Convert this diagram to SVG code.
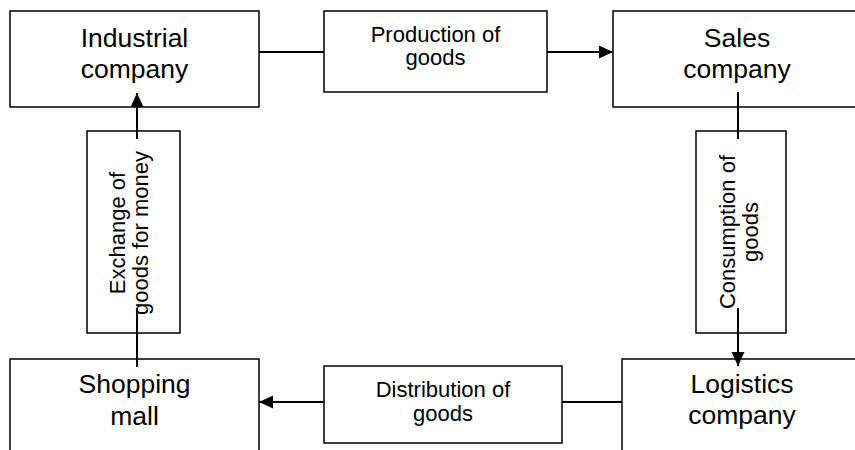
<svg xmlns="http://www.w3.org/2000/svg" width="855" height="450" viewBox="0 0 855 450">
  <style>
    .box { fill: #fff; stroke: #000; stroke-width: 1.5; }
    .lbl { fill: none; stroke: #000; stroke-width: 1.5; }
    .node { font-family: "Liberation Sans", Arial, sans-serif; font-size: 26.5px; fill: #000; text-anchor: middle; }
    .step { font-family: "Liberation Sans", Arial, sans-serif; font-size: 22px; fill: #000; text-anchor: middle; }
    .conn { fill: none; stroke: #000; stroke-width: 2; }
  </style>
  <defs>
    <marker id="arrow" markerUnits="userSpaceOnUse" markerWidth="16" markerHeight="16" refX="14" refY="6.5" orient="auto">
      <path d="M0,0 L14,6.5 L0,13 Z" fill="#000"/>
    </marker>
  </defs>

  <rect width="855" height="450" fill="#fff"/>

  <!-- company nodes -->
  <g id="industrial">
    <rect class="box" x="10" y="11" width="249" height="96"/>
    <text class="node" x="134.5" y="47">Industrial</text>
    <text class="node" x="134.5" y="78">company</text>
  </g>
  <g id="sales">
    <rect class="box" x="613" y="11" width="260" height="96"/>
    <text class="node" x="737" y="47">Sales</text>
    <text class="node" x="737" y="78">company</text>
  </g>
  <g id="logistics">
    <rect class="box" x="622" y="359" width="260" height="110"/>
    <text class="node" x="742" y="393">Logistics</text>
    <text class="node" x="742" y="424">company</text>
  </g>
  <g id="mall">
    <rect class="box" x="10" y="359" width="249" height="110"/>
    <text class="node" x="134.5" y="393">Shopping</text>
    <text class="node" x="134.5" y="425">mall</text>
  </g>

  <!-- process steps -->
  <g id="production">
    <rect class="lbl" x="324" y="11" width="223" height="81"/>
    <text class="step" x="435.5" y="42">Production of</text>
    <text class="step" x="435.5" y="65">goods</text>
  </g>
  <g id="consumption">
    <rect class="lbl" x="696" y="131" width="90" height="202"/>
    <g transform="translate(741,232) rotate(-90)">
      <text class="step" x="0" y="-6">Consumption of</text>
      <text class="step" x="0" y="17">goods</text>
    </g>
  </g>
  <g id="distribution">
    <rect class="lbl" x="324" y="366" width="238" height="77"/>
    <text class="step" x="443" y="397">Distribution of</text>
    <text class="step" x="443" y="421">goods</text>
  </g>
  <g id="exchange">
    <rect class="lbl" x="87" y="131" width="93" height="202"/>
    <g transform="translate(131,233) rotate(-90)">
      <text class="step" x="0" y="-6">Exchange of</text>
      <text class="step" x="0" y="17">goods for money</text>
    </g>
  </g>

  <!-- connectors -->
  <g id="connectors">
    <line class="conn" x1="259" y1="52" x2="324" y2="52"/>
    <line class="conn" x1="547" y1="52" x2="613" y2="52" marker-end="url(#arrow)"/>
    <line class="conn" x1="738" y1="92" x2="738" y2="139"/>
    <line class="conn" x1="738" y1="308" x2="738" y2="366" marker-end="url(#arrow)"/>
    <line class="conn" x1="622" y1="402" x2="562" y2="402"/>
    <line class="conn" x1="324" y1="402" x2="259" y2="402" marker-end="url(#arrow)"/>
    <line class="conn" x1="137" y1="367" x2="137" y2="308"/>
    <line class="conn" x1="137" y1="139" x2="137" y2="93" marker-end="url(#arrow)"/>
  </g>
</svg>
